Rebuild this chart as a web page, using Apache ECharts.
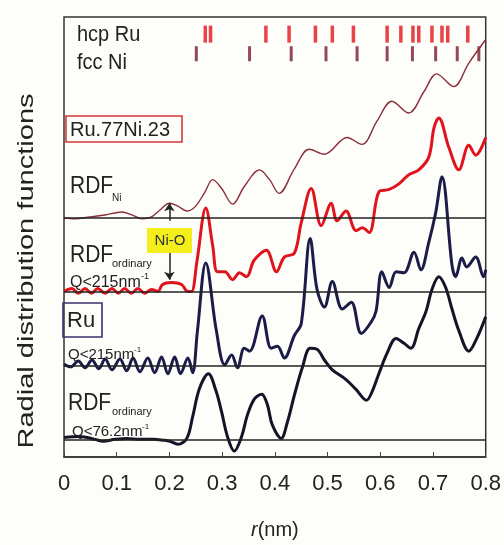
<!DOCTYPE html>
<html>
<head>
<meta charset="utf-8">
<title>RDF Ru.77Ni.23</title>
<script src="https://cdn.jsdelivr.net/npm/echarts@6/dist/echarts.min.js"></script>
<style>
html, body { margin: 0; padding: 0; background: #fdfdfa; }
#chart { width: 504px; height: 545px; }
</style>
</head>
<body>
<div id="chart"></div>
<script>

// RDF_Ni (thin curve, Ru.77Ni.23)
var rNi = [0, 0.021, 0.049, 0.078, 0.110, 0.129, 0.148, 0.166, 0.182, 0.200, 0.216, 0.233, 0.248,
    0.267, 0.282, 0.299, 0.320, 0.342, 0.371, 0.390, 0.408, 0.437, 0.465, 0.494, 0.537, 0.565,
    0.594, 0.622, 0.654, 0.683, 0.707, 0.739, 0.768, 0.800];
var rdfNi = [0, -1, 1, 3, 6, 3, -1, 1, 8, 15, 12, 7, 11,
    26, 39, 30, 14, 32, 49, 39, 25, 50, 70, 65, 82, 75,
    99, 119, 107, 129, 147, 134, 158, 182];

// RDF ordinary, Q<215nm-1 (Ru.77Ni.23, red)
var rAlloy = [0, 0.015, 0.027, 0.040, 0.052, 0.064, 0.078, 0.091, 0.103, 0.115, 0.128, 0.140, 0.153,
    0.166, 0.178, 0.187, 0.204, 0.223, 0.235, 0.242, 0.252, 0.269, 0.282, 0.291, 0.305, 0.320,
    0.333, 0.346, 0.361, 0.384, 0.403, 0.418, 0.437, 0.450, 0.469, 0.488, 0.507, 0.518, 0.535,
    0.554, 0.566, 0.579, 0.598, 0.617, 0.636, 0.654, 0.673, 0.692, 0.702, 0.711, 0.730, 0.749,
    0.768, 0.781, 0.800];
var rdfAlloy = [0, 3, -2, 3, -2, 3, -2, 3, -2, 3, -2, 3, -2,
    2, 0, 7, 9, 7, 0, 0, 30, 85, 47, 20, 20, 12,
    19, 15, 32, 42, 20, 35, 39, 70, 105, 67, 90, 72, 82,
    62, 65, 60, 102, 104, 110, 119, 124, 137, 167, 177, 147, 124,
    149, 139, 157];

// Ru, Q<215nm-1 (navy)
var rRuHi = [0, 0.013, 0.027, 0.040, 0.053, 0.066, 0.078, 0.091, 0.106, 0.119, 0.131, 0.144, 0.159,
    0.172, 0.185, 0.197, 0.210, 0.221, 0.235, 0.244, 0.253, 0.269, 0.289, 0.305, 0.318, 0.329,
    0.342, 0.352, 0.376, 0.393, 0.405, 0.418, 0.437, 0.450, 0.467, 0.480, 0.494, 0.509, 0.528,
    0.545, 0.564, 0.583, 0.592, 0.603, 0.617, 0.630, 0.645, 0.664, 0.677, 0.692, 0.705, 0.717,
    0.736, 0.743, 0.755, 0.764, 0.781, 0.796, 0.800];
var rdfRuHi = [2, -1, 5, -2, 6, -3, 7, -4, 7, -5, 8, -6, 8,
    -7, 9, -8, 9, -8, 8, -7, 35, 105, 36, 1, 11, -2,
    18, 15, 51, 18, 20, 8, 31, 43, 130, 78, 60, 86, 58,
    65, 33, 45, 56, 96, 80, 96, 95, 116, 98, 126, 156, 193,
    103, 91, 110, 101, 111, 91, 98];

// Ru, RDF ordinary, Q<76.2nm-1 (black)
var rRuLo = [0, 0.030, 0.059, 0.074, 0.097, 0.119, 0.144, 0.168, 0.191, 0.201, 0.216, 0.233, 0.244,
    0.257, 0.274, 0.288, 0.299, 0.310, 0.323, 0.337, 0.348, 0.361, 0.375, 0.386, 0.395, 0.412,
    0.424, 0.437, 0.452, 0.467, 0.480, 0.494, 0.509, 0.535, 0.554, 0.574, 0.584, 0.598, 0.613,
    0.630, 0.645, 0.658, 0.673, 0.687, 0.698, 0.711, 0.724, 0.736, 0.749, 0.768, 0.783, 0.800];
var rdfRuLo = [2, 3, 0, -2, 0, 1, 0, 0, -1, -2, -5, 1, 23,
    52, 67, 50, 28, 3, -12, 3, 25, 41, 46, 35, 15, 1,
    18, 45, 73, 93, 92, 81, 71, 61, 51, 40, 48, 68, 88,
    103, 98, 93, 113, 131, 153, 166, 155, 133, 111, 90, 103, 125];

// reference peak positions (nm)
var hcpRu = [0.268, 0.278, 0.383, 0.427, 0.477, 0.509, 0.549, 0.613, 0.639, 0.662, 0.673,
    0.698, 0.717, 0.728, 0.766];
var fccNi = [0.251, 0.352, 0.431, 0.497, 0.556, 0.613, 0.661, 0.705, 0.746, 0.787];

var FONT = 'Liberation Sans, Arial, sans-serif';

function shift(rs, vs, off) {
    var res = [];
    for (var i = 0; i < rs.length; i++) {
        res.push([rs[i], vs[i] + off]);
    }
    return res;
}

function zeroLine(off, extra) {
    return {
        silent: true,
        symbol: 'none',
        label: {show: false},
        lineStyle: {color: '#222', width: 1.5, type: 'solid'},
        data: [{yAxis: off}].concat(extra || [])
    };
}

function label(text, x, y, size, extra) {
    var el = {
        type: 'text',
        x: x,
        y: y,
        z: 10,
        style: {
            text: text,
            fontSize: size,
            fontFamily: FONT,
            fill: '#222',
            verticalAlign: 'middle'
        }
    };
    for (var k in extra) el[k] = extra[k];
    return el;
}

// vertical placement of each curve's zero line
var offNi = 244, offAlloy = 169, offRuHi = 93, offRuLo = 18;

var arrows = [
    [{coord: [0.2, 241], symbol: 'none'}, {coord: [0.2, 259], symbol: 'arrow', symbolSize: 8}],
    [{coord: [0.2, 209], symbol: 'none'}, {coord: [0.2, 181], symbol: 'arrow', symbolSize: 8}]
];

var option = {
    backgroundColor: '#fdfdfa',
    animation: false,
    grid: {
        left: 64, right: 17, top: 17, bottom: 79,
        show: true,
        borderColor: '#333',
        borderWidth: 1.5
    },
    xAxis: {
        type: 'value',
        min: 0,
        max: 0.8,
        interval: 0.1,
        name: '{i|r}(nm)',
        nameLocation: 'middle',
        nameGap: 63,
        nameTextStyle: {
            fontSize: 20, fontFamily: FONT, color: '#222',
            rich: {i: {fontSize: 20, fontStyle: 'italic', fontFamily: FONT, color: '#222'}}
        },
        axisLine: {lineStyle: {color: '#333', width: 1.5}},
        axisTick: {inside: true, length: 5, lineStyle: {color: '#444'}},
        axisLabel: {fontSize: 22, fontFamily: FONT, color: '#222', margin: 16},
        splitLine: {show: false}
    },
    yAxis: {
        type: 'value',
        min: 0,
        max: 449,
        show: false
    },
    graphic: {
        elements: [
            label('Radial distribution functions', 27, 271, 22,
                {rotation: Math.PI / 2, scaleX: 1.32, style: {
                    text: 'Radial distribution functions', fontSize: 22, fontFamily: FONT,
                    fill: '#222', align: 'center', verticalAlign: 'middle'}}),
            label('hcp Ru', 77, 35, 20, {scaleY: 1.12}),
            label('fcc Ni', 77, 63, 20, {scaleY: 1.12}),
            {type: 'rect', z: 10, shape: {x: 66, y: 116, width: 116, height: 26},
                style: {fill: 'none', stroke: '#d03a3a', lineWidth: 1.6}},
            label('Ru.77Ni.23', 70, 130, 20),
            label('RDF', 70, 187, 21, {scaleY: 1.1}),
            label('Ni', 112, 198, 10),
            label('RDF', 70, 256, 21, {scaleY: 1.1}),
            label('ordinary', 112, 264, 11),
            label('Q<215nm', 70, 283, 16),
            label('-1', 141, 277, 9),
            {type: 'rect', z: 10, shape: {x: 147, y: 228, width: 45, height: 25},
                style: {fill: '#f4ef1c', stroke: 'none'}},
            label('Ni-O', 170, 241, 15, {style: {text: 'Ni-O', fontSize: 15, fontFamily: FONT,
                fill: '#333', align: 'center', verticalAlign: 'middle'}}),
            {type: 'rect', z: 10, shape: {x: 63, y: 303, width: 39, height: 34},
                style: {fill: 'none', stroke: '#34346e', lineWidth: 1.6}},
            label('Ru', 67, 321, 22),
            label('Q<215nm', 68, 355, 15),
            label('-1', 134, 350, 8),
            label('RDF', 68, 404, 21, {scaleY: 1.1}),
            label('ordinary', 112, 412, 11),
            label('Q<76.2nm', 72, 432, 15),
            label('-1', 142, 427, 8)
        ]
    },
    series: [
        {
            name: 'hcp Ru',
            type: 'scatter',
            data: hcpRu.map(function (r) { return [r, 431.5]; }),
            symbol: 'rect',
            symbolSize: [3.5, 17],
            itemStyle: {color: '#e3141c'},
            silent: true
        },
        {
            name: 'fcc Ni',
            type: 'scatter',
            data: fccNi.map(function (r) { return [r, 411.5]; }),
            symbol: 'rect',
            symbolSize: [3, 15],
            itemStyle: {color: '#7a1a30'},
            silent: true
        },
        {
            name: 'RDF Ni',
            type: 'line',
            data: shift(rNi, rdfNi, offNi),
            smooth: 0.35,
            symbol: 'none',
            lineStyle: {color: '#8b2d3a', width: 1.4},
            markLine: zeroLine(offNi)
        },
        {
            name: 'Ru.77Ni.23 Q<215',
            type: 'line',
            data: shift(rAlloy, rdfAlloy, offAlloy),
            smooth: 0.35,
            symbol: 'none',
            lineStyle: {color: '#e0141c', width: 3},
            markLine: zeroLine(offAlloy, arrows)
        },
        {
            name: 'Ru Q<215',
            type: 'line',
            data: shift(rRuHi, rdfRuHi, offRuHi),
            smooth: 0.35,
            symbol: 'none',
            lineStyle: {color: '#1c1c48', width: 3},
            markLine: zeroLine(offRuHi)
        },
        {
            name: 'Ru Q<76.2',
            type: 'line',
            data: shift(rRuLo, rdfRuLo, offRuLo),
            smooth: 0.35,
            symbol: 'none',
            lineStyle: {color: '#141428', width: 3},
            markLine: zeroLine(offRuLo)
        }
    ]
};

var chart = echarts.init(document.getElementById('chart'));
chart.setOption(option);
</script>
</body>
</html>
